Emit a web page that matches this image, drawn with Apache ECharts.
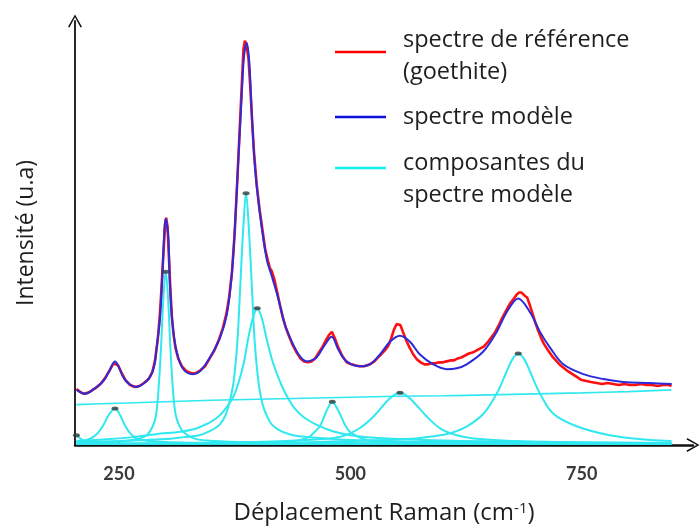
<!DOCTYPE html>
<html><head><meta charset="utf-8">
<script src="https://cdn.jsdelivr.net/npm/echarts@6/dist/echarts.min.js"></script>
<style>html,body{margin:0;padding:0;background:#fff}#c{width:700px;height:530px}</style>
</head><body><div id="c"></div>
<script>
// ---- axis ticks / labels ----
const xTicks = [250, 300, 350, 400, 450, 500, 550, 600, 650, 700, 750, 800];
const xLabels = [250, 500, 750];

// ---- reference spectrum (goethite), red ----
const refX = [204,208,212,216,220,225,230,235,240,244,246,249,253,257,262,267,272,277,282,286,289,292,294,296,298,300,301,302.5,304,305.5,307,309,311,314,318,323,328,333,338,343,348,353,358,362,366,369,372,375,378,381,383,384.5,386,388,390,392,394,396,399,402,405,408,411,413,415,418,421,424,427,430,434,438,442,446,450,454,458,462,466,470,474,477,480,483,487,491,496,501,505,510,515,521,526,530,534,538,541,544,547,550,552,554,556,558,561,564,568,572,576,580,584,588,592,596,600,604,608,612,616,620,624,628,632,636,640,644,648,652,656,660,664,668,672,676,679,682,685,688,691,694,697,700,703,706,709,713,716,719,723,727,731,735,740,745,750,755,760,766,772,778,784,790,796,802,808,814,820,826,832,838,844,847];
const refY = [57,54,52,53,55,58,62,68,76,83,85,81,73,66,61,59,60,63,67,74,86,108,130,160,195,225,231,222,190,160,132,112,99,88,80,75,73,73,76,80,88,96,107,118,133,150,175,215,272,332,372,402,411,406,392,362,327,296,263,239,219,199,187,180,177,168,155,142,130,120,110,101,94,88,85,84,85,88,94,100,107,112,115,109,99,91,84,82,81,80,80,82,85,89,93,97,101,108,117,123,125,122,117,112,105,99,92,87,84,82,82,83,83,84,84,85,86,86,88,89,91,93,94,96,98,100,104,109,114,121,129,136,143,148,152,155,155,152,150,142,133,124,116,109,103,97,93,89,85,81,78,75,72,69,66,65,64,63,62,63,62,61,62,61,61,62,61,61,60,61,61,60];

// ---- model spectrum, blue ----
const modelX = [204.3,213.3,223,233,240,245.7,250,254.6,261,269.1,276,283.5,288,290.7,294.3,297.2,300.5,303.3,305.1,308,312.3,319.5,330.3,337.5,348.3,359.1,366.4,371.8,375.3,378.9,382.6,385.1,388,390.8,393.4,397,402.3,409.6,415,422.1,429.4,438.3,445.6,452.8,458,463.6,472.6,479.8,487,496,510.4,521.2,532,542.8,553.6,564.4,575.2,589.6,604.1,615,625.7,643.6,658.1,668.9,681.4,694.1,704.9,715.7,730.1,751.7,773.3,794.9,823.7,847.2];
const modelY = [56,52,57,65,76,85,79,69,62,59,62,69,80,99,129,179,230,212,162,122,95,77,72,75,89,109,132,172,222,289,355,395,409,389,339,282,235,189,172,149,122,102,90,85,86,89,102,110,97,85,80,82,92,105,111,105,92,82,77,78,82,95,115,135,149,135,115,99,82,72,67,64,63,62];

// ---- model components, cyan ----
const baseX = [204,250,300,350,400,450,500,550,600,650,700,750,800,847];
const baseY = [41,42.5,44,45.5,46.5,47.5,48.5,49.5,50,51,52,53,54.3,56];
const compHX = [204,206,209,213,220,235,270,350,450,600,847];
const compHY = [10,8.5,6,4,3,2,1.5,1.2,1,1,1];
const compAX = [204,215,222,228,233,238,242,245.7,249,253,257,262,268,275,290,320,400,600,847];
const compAY = [3,5,8,13,20,29,34.5,37,34,27,19,12,7,5,3.5,2.5,2,1.5,1.2];
const compBX = [204,250,270,280,286,290,293,295.5,298,300.5,303,305.5,308,311,315,320,330,345,380,450,600,847];
const compBY = [2,3.5,6,10,18,30,60,100,150,176,150,100,60,32,20,13,7,4.5,3,2,1.5,1];
const compCX = [204,250,300,320,337,348,359,365,369,373.5,377.8,380.7,384.4,387.3,390.2,393.9,396.8,401,405,409.6,415,425,438,456,500,600,847];
const compCY = [3,4,6,8,10,14,21,30,42,62,103,155,222,256,222,155,103,62,42,30,21,14,10,8,5,3,2];
const compDX = [204,240,265,290,320,337,355,366,375,384,390,395,399.4,404,410,415,420,426,433,440,450,465,481,500,530,600,700,847];
const compDY = [4,6,8,11,14,18,27,38,52,80,110,130,139,130,106,88,74,60,47,37,28,20,14,10,7,4.5,3,2];
const compEX = [204,400,440,455,460,467,473,477,480.5,484,488.5,495,500,507,518,540,600,847];
const compEY = [1,2,4,8,12,19,32,40,44,40,32,19,13,9,5,3,2,1];
const compFX = [204,350,430,470,492,510,525,539,546,553.6,561,568,582.5,597,615,640,680,750,847];
const compFY = [1,2,4,6,9,17,29,44,50,53,50,44,29,17,10,6,4,2.5,1.5];
const compGX = [204,400,500,560,590,607.6,626,644,658,664,669,675,681.4,688,694,699,705,719,744.5,780,824,847];
const compGY = [1,2,4,6,9,12,19,32,52,64,75,87,93,87,75,64,52,32,19,10,5,4];

const legendItems = [
  {color: '#ff0000', lines: ['spectre de référence', '(goethite)']},
  {color: '#1010e0', lines: ['spectre modèle']},
  {color: '#10f0f0', lines: ['composantes du', 'spectre modèle']}
];

function pairs(xs, ys) { return xs.map((x, i) => [x, ys[i]]); }

const components = [
  [compHX, compHY], [compAX, compAY], [compBX, compBY], [compCX, compCY],
  [compDX, compDY], [compEX, compEY], [compFX, compFY], [compGX, compGY]
];
const cyan = '#30e8ef';
const FONT = '"Open Sans"';

const series = [];
series.push({
  name: 'composantes du spectre modèle', type: 'line', data: pairs(baseX, baseY),
  showSymbol: false, smooth: 0.3, lineStyle: {color: cyan, width: 1.6}, z: 2, silent: true
});
components.forEach(c => {
  series.push({
    name: 'composantes du spectre modèle', type: 'line', data: pairs(c[0], c[1]),
    showSymbol: false, smooth: 0.35, lineStyle: {color: cyan, width: 2}, z: 2, silent: true
  });
});
series.push({
  name: 'spectre de référence (goethite)', type: 'line', data: pairs(refX, refY),
  showSymbol: false, smooth: false, lineStyle: {color: '#ff1010', width: 2.6}, z: 3, silent: true
});
series.push({
  name: 'spectre modèle', type: 'line', data: pairs(modelX, modelY),
  showSymbol: false, smooth: 0.35, lineStyle: {color: '#2b2bdc', width: 2}, z: 4, silent: true
});
// peak markers at the top of each component (taken from the component arrays)
const peaks = components.map(c => {
  let k = 0; c[1].forEach((v, i) => { if (v > c[1][k]) k = i; });
  return [c[0][k], c[1][k]];
});
series.push({
  type: 'scatter', data: peaks, symbol: 'circle', symbolSize: [7, 4],
  itemStyle: {color: '#2f3c3c'}, z: 5, silent: true
});

// legend drawn as graphic
const graphic = [];
let tops = [52, 117, 168];
let textY = [[40, 72], [117], [163, 195]];
legendItems.forEach((it, i) => {
  graphic.push({type: 'line', shape: {x1: 335, y1: tops[i], x2: 386, y2: tops[i]},
    style: {stroke: it.color, lineWidth: 2.5}});
  it.lines.forEach((t, j) => {
    graphic.push({type: 'text', x: 403, y: textY[i][j],
      style: {text: t, font: '23.5px ' + FONT, fill: '#1e1e1e', verticalAlign: 'middle'}});
  });
});

const arrowUp = 'path://M0,14 L8,0 L16,14 L14.4,14.9 L8,3.2 L1.6,14.9 Z';

const chart = echarts.init(document.getElementById('c'));
chart.setOption({
  animation: false,
  backgroundColor: '#fff',
  grid: {left: 75, right: 7, top: 21, bottom: 78, containLabel: false},
  xAxis: {
    type: 'value', min: 202.5, max: 870.2,
    name: 'Déplacement Raman (cm{s|-1})', nameLocation: 'middle', nameGap: 56,
    nameTextStyle: {
      fontFamily: FONT, fontSize: 24, color: '#1e1e1e',
      rich: {s: {fontFamily: FONT, fontSize: 15, color: '#1e1e1e', verticalAlign: 'top', lineHeight: 15}}
    },
    axisLine: {show: true, lineStyle: {color: '#111', width: 2.5},
      symbol: ['none', arrowUp], symbolSize: [16, 13]},
    axisTick: {show: true, inside: true, length: 3, lineStyle: {color: '#333', width: 2}, customValues: xTicks},
    axisLabel: {customValues: xLabels, margin: 20, fontFamily: 'Lato', fontWeight: 'bold', fontSize: 18, color: '#3a3a3a'},
    splitLine: {show: false}
  },
  yAxis: {
    type: 'value', min: 0, max: 431,
    name: 'Intensité (u.a)', nameLocation: 'middle', nameGap: 37, nameRotate: 90,
    nameTextStyle: {fontFamily: FONT, fontSize: 23, color: '#1e1e1e'},
    axisLine: {show: true, lineStyle: {color: '#111', width: 1.8},
      symbol: ['none', arrowUp], symbolSize: [16, 13]},
    axisTick: {show: false}, axisLabel: {show: false}, splitLine: {show: false}
  },
  series: series,
  graphic: graphic
});
</script></body></html>
